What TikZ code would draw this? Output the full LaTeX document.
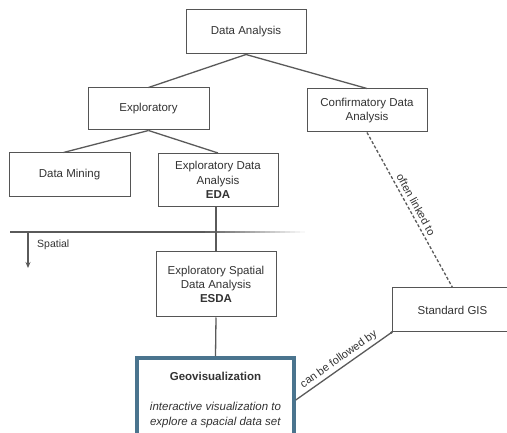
\documentclass[tikz,border=0pt]{standalone}
\usepackage{fontspec}
\setmainfont{Liberation Sans}
\usetikzlibrary{arrows.meta,calc}
\definecolor{txt}{HTML}{333333}
\definecolor{boxc}{HTML}{555555}
\definecolor{linec}{HTML}{5A5A5A}
\definecolor{geoc}{HTML}{4A748E}
\begin{document}
\begin{tikzpicture}[x=1pt,y=-1pt,
  box/.style={draw=boxc, line width=1pt, align=center, text=txt,
    font=\fontsize{11.5}{14.3}\selectfont, inner sep=0pt},
  geobox/.style={draw=geoc, line width=3.5pt, align=center, text=txt,
    font=\fontsize{11.5}{14.3}\selectfont, inner sep=0pt},
  conn/.style={draw=linec, line width=1.3pt},
  lbl/.style={text=txt, font=\fontsize{11}{12}\selectfont, inner sep=1pt}]
\useasboundingbox (0,0) rectangle (507,433);
\clip (0,0) rectangle (507,433);
\fill[white] (0,0) rectangle (507,433);

\node[box, minimum width=120pt, minimum height=44pt] (da) at (246,32) {Data Analysis};
\node[box, minimum width=121pt, minimum height=42pt] (exp) at (148.5,109) {Exploratory};
\node[box, minimum width=120pt, minimum height=43pt] (cda) at (367,110.5) {Confirmatory Data\\Analysis};
\node[box, minimum width=121pt, minimum height=44pt] (dm) at (69.5,175) {Data Mining};
\node[box, minimum width=120pt, minimum height=53pt] (eda) at (218,180) {Exploratory Data\\Analysis\\\textbf{EDA}};
\node[box, minimum width=120pt, minimum height=65pt] (esda) at (216,284.5) {Exploratory Spatial\\Data Analysis\\\textbf{ESDA}};
\node[box, minimum width=121pt, minimum height=44pt] (gis) at (452.5,310) {Standard GIS};
\node[geobox, minimum width=157pt, minimum height=84pt] (geo) at (215.5,400)
  {\textbf{Geovisualization}\\[16pt]\textit{interactive visualization to}\\\textit{explore a spacial data set}};

\draw[conn] (da.south) -- (exp.north);
\draw[conn] (da.south) -- (cda.north);
\draw[conn] (exp.south) -- ($(dm.north)+(-6,0)$);
\draw[conn] (exp.south) -- (eda.north);

% spatial divider
\fill[linec] (10,231) rectangle (200,233.2);
\foreach \i in {0,...,20}{
  \pgfmathsetmacro{\c}{100-4.8*\i}
  \fill[linec!\c!white] (200+5*\i,231) rectangle (205.3+5*\i,233.2);
}
\coordinate (sp0) at (28,232);
\coordinate (sp1) at (28,268);
\draw[conn, -{Stealth[length=6pt,width=5pt]}] (sp0) -- (sp1);
\node[lbl, anchor=west, font=\fontsize{10.5}{12}\selectfont] (spl) at (36,245) {Spatial};

\draw[conn] (esda.north |- eda.south) -- (esda.north);
\draw[conn] (esda.south) -- (geo.north);

\draw[conn, dashed, dash pattern=on 3pt off 2pt] (cda.south) -- node[sloped, above=2.5pt, pos=0.49, lbl] (ol) {often linked to} (gis.north);
\draw[conn] (geo.east) -- node[sloped, above=1.5pt, pos=0.5, lbl] (cf) {can be followed by} (gis.south west);
\fill[linec] (gis.south west) circle (1.4pt);
\end{tikzpicture}
\end{document}
